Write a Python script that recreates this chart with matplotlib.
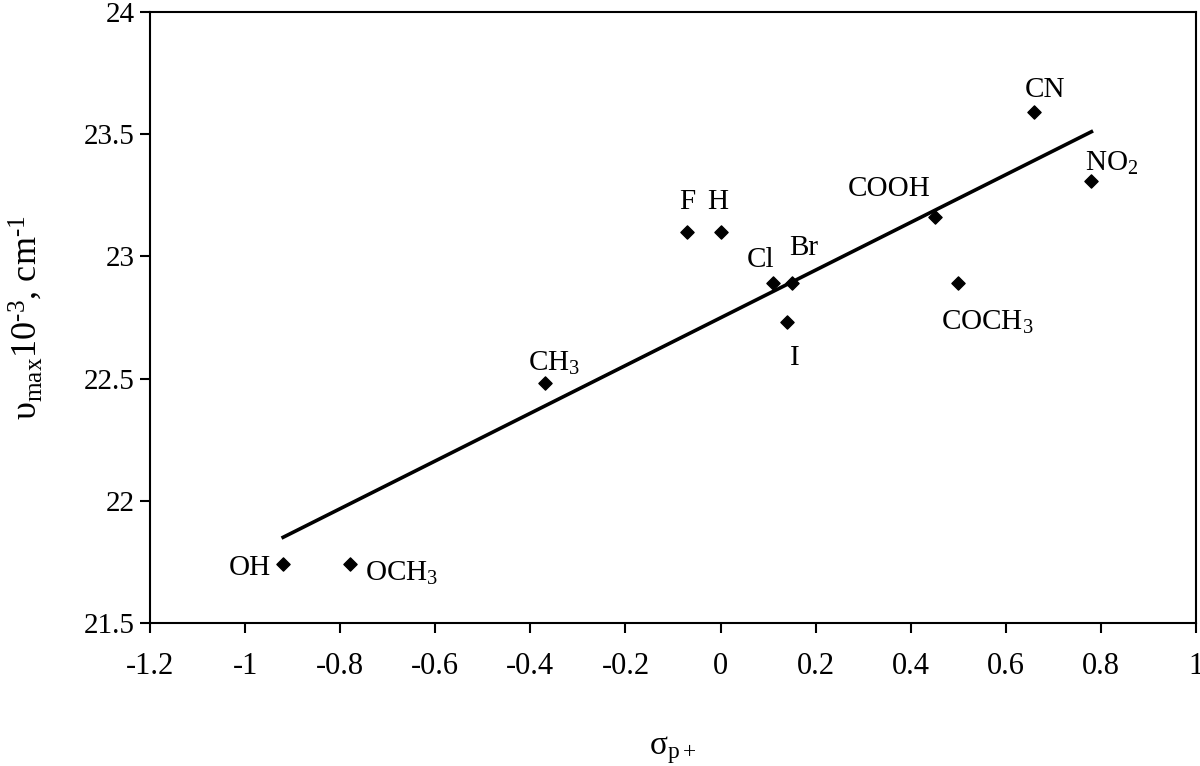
import numpy as np
import matplotlib
matplotlib.use("Agg")
import matplotlib.pyplot as plt

plt.rcParams['font.family'] = ['Liberation Serif', 'DejaVu Serif']
plt.rcParams['mathtext.fontset'] = 'custom'
plt.rcParams['mathtext.rm'] = 'Liberation Serif'
plt.rcParams['mathtext.it'] = 'Liberation Serif:italic'
plt.rcParams['mathtext.default'] = 'rm'
plt.rcParams['axes.unicode_minus'] = False

# Data
substituents = ["OH", "OCH$_3$", "CH$_3$", "F", "H", "Cl", "Br", "I",
                "COOH", "COCH$_3$", "CN", "NO$_2$"]
sigma = [-0.92, -0.78, -0.37, -0.07, 0.00, 0.11, 0.15, 0.14,
         0.45, 0.50, 0.66, 0.78]
nu = [21.74, 21.74, 22.48, 23.10, 23.10, 22.89, 22.89, 22.73,
      23.16, 22.89, 23.59, 23.31]
xticks = [-1.2, -1, -0.8, -0.6, -0.4, -0.2, 0, 0.2, 0.4, 0.6, 0.8, 1]
xtick_labels = ["-1.2", "-1", "-0.8", "-0.6", "-0.4", "-0.2", "0", "0.2",
                "0.4", "0.6", "0.8", "1"]
yticks = [21.5, 22, 22.5, 23, 23.5, 24]
ytick_labels = ["21.5", "22", "22.5", "23", "23.5", "24"]

# label offsets in pixels (style only)
offsets = [(-33, -4), (52, -9), (9, 20), (0, 30), (-3, 30), (-12, 23),
           (12, 35), (8, -36), (-45, 28), (29, -39), (11, 22), (20, 17)]

fig = plt.figure(figsize=(12, 7.66), dpi=100)
ax = fig.add_axes([0.125, 0.1867, 0.8717, 0.7976])

ax.scatter(sigma, nu, marker='D', s=45, color='black', zorder=3)

coef = np.polyfit(sigma, nu, 1)
xs = np.array([min(sigma), max(sigma)])
ax.plot(xs, np.polyval(coef, xs), color='black', lw=2.6, zorder=2)

for name, x, y, (dx, dy) in zip(substituents, sigma, nu, offsets):
    ax.annotate(name, (x, y), xytext=(dx, dy), textcoords='offset pixels',
                ha='center', va='center', fontsize=21)

ax.set_xlim(-1.2, 1)
ax.set_ylim(21.5, 24)
ax.set_xticks(xticks)
ax.set_xticklabels(xtick_labels, fontsize=22)
ax.set_yticks(yticks)
ax.set_yticklabels(ytick_labels, fontsize=21)
ax.tick_params(axis='both', direction='out', width=1.5, length=7, color='black')
ax.tick_params(axis='x', pad=14)
ax.tick_params(axis='y', pad=4)
for sp in ax.spines.values():
    sp.set_linewidth(1.5)
    sp.set_color('black')

ax.set_xlabel(r"σ$_{p+}$", fontsize=24, labelpad=38)
ax.set_ylabel(r"υ$_{max}$10$^{\text{-3}}$, cm$^{\text{-1}}$", fontsize=26, labelpad=28)

fig.savefig("out.png", dpi=100)
